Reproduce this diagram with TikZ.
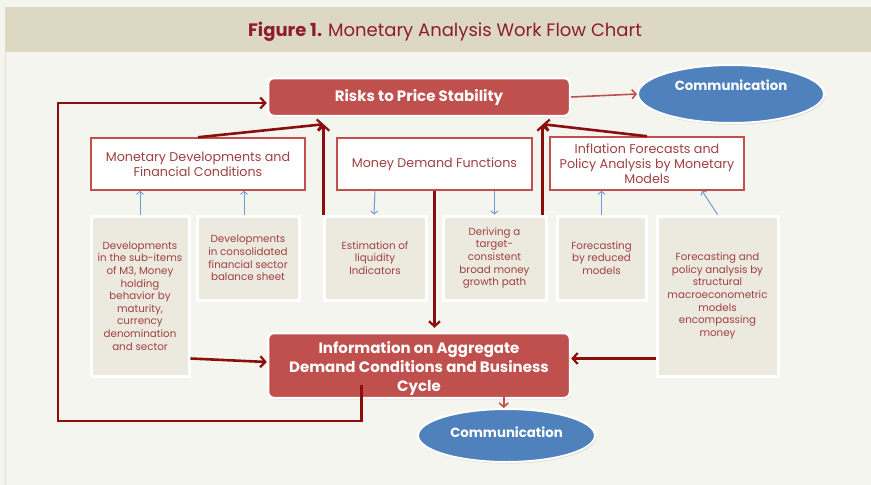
\documentclass[tikz,border=0pt]{standalone}
\usepackage{fontspec}
\setmainfont{Poppins}
\usetikzlibrary{arrows.meta,shadows,shapes.geometric,calc}

\definecolor{pagebg}{HTML}{F5F5EF}
\definecolor{bandbg}{HTML}{DDD8C2}
\definecolor{titlered}{HTML}{8C1C2E}
\definecolor{boxred}{HTML}{C0504D}
\definecolor{arrowred}{HTML}{8B0E0E}
\definecolor{inkred}{HTML}{A04040}
\definecolor{notebg}{HTML}{ECE9DF}
\definecolor{commblue}{HTML}{4F81BD}
\definecolor{linkblue}{HTML}{6C9BD2}

\tikzset{
  keybox/.style={draw=white, line width=2.5pt, fill=boxred, rounded corners=6pt,
    text=white, font=\bfseries\fontsize{15}{19}\selectfont, align=center, inner sep=0pt,
    drop shadow={opacity=0.35, shadow xshift=1pt, shadow yshift=-1.5pt}},
  keytext/.style={text=white, font=\bfseries\fontsize{15}{19}\selectfont, align=center},
  topicbox/.style={draw=boxred, line width=1.5pt, fill=white, text=inkred,
    font=\fontsize{12.7}{15}\selectfont, align=center, inner sep=0pt},
  notebox/.style={draw=white, line width=3pt, fill=notebg, text=inkred,
    font=\fontsize{10.3}{12.6}\selectfont, align=center, inner sep=0pt,
    drop shadow={opacity=0.3, shadow xshift=1pt, shadow yshift=-1.5pt}},
  commbubble/.style={ellipse, draw=white, line width=2pt, fill=commblue, inner sep=0pt,
    drop shadow={opacity=0.3, shadow xshift=1pt, shadow yshift=-1.5pt}},
  commtext/.style={text=white, font=\bfseries\fontsize{13.3}{15}\selectfont},
  mainflow/.style={draw=arrowred, line width=2.6pt,
    -{Straight Barb[length=5pt,width=11pt,line width=2.2pt]}},
  outflow/.style={draw=boxred, line width=1.6pt,
    -{Straight Barb[length=4pt,width=9pt,line width=1.6pt]}},
  feedlink/.style={draw=linkblue, line width=1pt,
    -{Straight Barb[length=3pt,width=7pt,line width=0.9pt]}},
}

\begin{document}
\begin{tikzpicture}[x=1pt,y=-1pt]
  % page and title band
  \useasboundingbox (0,0) rectangle (871,485);
  \fill[pagebg] (0,0) rectangle (871,485);
  \fill[bandbg] (5,7) rectangle (871,52);
  \draw[bandbg!80!white, line width=1pt] (5,52) -- (5,485);
  \node[text=titlered, font=\fontsize{18}{21}\selectfont] (title) at (445,32)
    {\textbf{Figure 1.}\hspace{6pt}Monetary Analysis Work Flow Chart};

  % central outcome boxes
  \node[keybox, minimum width=302pt, minimum height=38pt] (risks) at (419,97)
    {Risks to Price Stability};
  \node[keybox, minimum width=302pt, minimum height=65pt] (info) at (419,365.5) {};
  \node[keytext] (infolabel) at (419,368)
    {Information on Aggregate\\Demand Conditions and Business\\Cycle};

  % communication bubbles
  \node[commbubble, minimum width=186pt, minimum height=58pt] (commtop) at (731,94) {};
  \node[commtext] (commtoplabel) at (731,85) {Communication};
  \node[commbubble, minimum width=177pt, minimum height=53pt] (commbot) at (506.5,435.5) {};
  \node[commtext] (commbotlabel) at (506.5,432) {Communication};

  % analysis pillars
  \node[topicbox, minimum width=214pt, minimum height=52pt] (mondev) at (198,164)
    {Monetary Developments and\\Financial Conditions};
  \node[topicbox, minimum width=195pt, minimum height=52pt] (mdf) at (434.5,164)
    {Money Demand Functions};
  \node[topicbox, minimum width=194pt, minimum height=53pt] (infl) at (647,163.5)
    {Inflation Forecasts and\\Policy Analysis by Monetary\\Models};

  % supporting analyses
  \node[notebox, minimum width=98pt, minimum height=160pt] (b1) at (140,296)
    {Developments\\in the sub-items\\of M3, Money\\holding\\behavior by\\maturity,\\currency\\denomination\\and sector};
  \node[notebox, minimum width=102pt, minimum height=84pt] (b2) at (248,258)
    {Developments\\in consolidated\\financial sector\\balance sheet};
  \node[notebox, minimum width=102pt, minimum height=84pt] (b3) at (375,258)
    {Estimation of\\liquidity\\Indicators};
  \node[notebox, minimum width=103pt, minimum height=84pt] (b4) at (494.5,258)
    {Deriving a\\target-\\consistent\\broad money\\growth path};
  \node[notebox, minimum width=89pt, minimum height=84pt] (b5) at (601.5,258)
    {Forecasting\\by reduced\\models};
  \node[notebox, minimum width=121pt, minimum height=160pt] (b6) at (717.5,296)
    {Forecasting and\\policy analysis by\\structural\\macroeconometric\\models\\encompassing\\money};

  % arrow tips under the risks box and free ends inside the information box
  \coordinate (tipL) at ($(risks.south west)+(57,7)$);
  \coordinate (tipR) at ($(risks.south west)+(276,7)$);
  \coordinate (loopstart) at ($(info.south west)+(95,-14)$);
  \coordinate (loopcorner) at (58,421);
  \coordinate (commstart) at ($(info.south west)+(237,-14)$);

  % outward communication
  \draw[outflow] (risks.east) -- (commtop.west);
  \draw[outflow] (commstart) -- (commstart |- commbot.north);

  % main flows into the outcome boxes
  \draw[mainflow] (mondev.north) -- (tipL);
  \draw[mainflow] (tipL |- b3.north) -- (tipL);
  \draw[mainflow] (infl.north) -- (tipR);
  \draw[mainflow] (tipR |- b4.north) -- (tipR);
  \draw[mainflow, shorten >=4pt] (mdf.south) -- (mdf.south |- info.north);
  \draw[mainflow] ($(b1.south east)+(0,-19)$) -- ([yshift=3.5pt]info.west);
  \draw[mainflow] ($(b6.south west)+(0,-19)$) -- (info.east |- {$(b6.south west)+(0,-19)$});
  \draw[mainflow] (loopstart) |- (loopcorner) |- ([yshift=-6pt]risks.west);

  % feeds between pillars and supporting analyses
  \draw[feedlink] (b1.north) -- (b1.north |- mondev.south);
  \draw[feedlink] ([xshift=-4pt]b2.north) -- ([xshift=-4pt]b2.north |- mondev.south);
  \draw[feedlink] (b3.north |- mdf.south) -- ([xshift=-1pt]b3.north);
  \draw[feedlink] (b4.north |- mdf.south) -- (b4.north);
  \draw[feedlink] (b5.north) -- (b5.north |- infl.south);
  \draw[feedlink] (b6.north) -- ($(infl.south)+(55,0)$);
\end{tikzpicture}
\end{document}
